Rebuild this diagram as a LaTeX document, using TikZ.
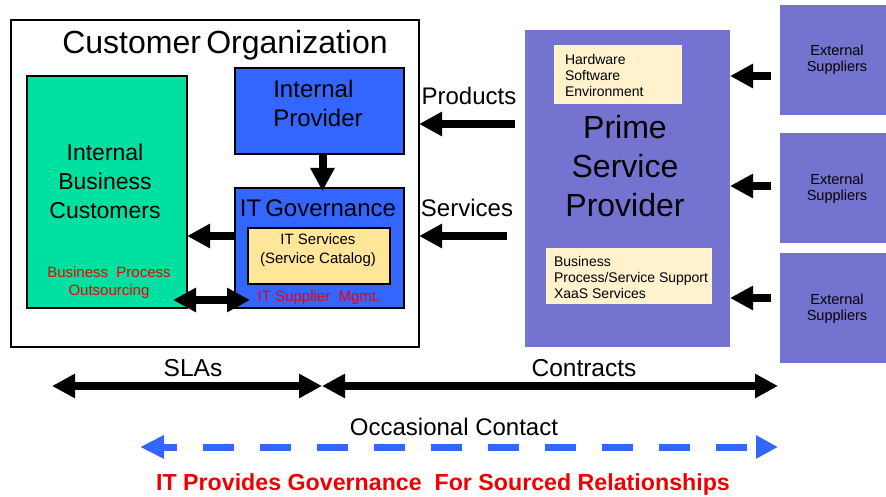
\documentclass[tikz,border=0pt]{standalone}
\usepackage{fontspec}
\setmainfont{Liberation Sans}
\usetikzlibrary{arrows.meta}
\definecolor{bizgreen}{RGB}{0,224,160}
\definecolor{provblue}{RGB}{51,102,255}
\definecolor{catyellow}{RGB}{255,230,153}
\definecolor{noteyellow}{RGB}{255,242,204}
\definecolor{primepurple}{RGB}{116,116,208}
\definecolor{alertred}{RGB}{240,0,0}
\newcommand\sizeto[2]{\fontsize{#1pt}{#2pt}\selectfont}

\begin{document}
\begin{tikzpicture}[x=1pt,y=-1pt,
  box/.style={draw=black,line width=2.6pt,inner sep=0pt,outer sep=0pt,anchor=north west},
  flat/.style={inner sep=0pt,outer sep=0pt,anchor=north west},
  lbl/.style={inner sep=0pt,outer sep=0pt,align=center},
  note/.style={inner sep=0pt,outer sep=0pt,align=left,anchor=west,font=\sizeto{14}{16}},
  flow/.style={line width=8pt,-{Triangle[length=23pt,width=23pt]}},
  flowboth/.style={line width=7.5pt,{Triangle[length=23pt,width=23pt]}-{Triangle[length=23pt,width=23pt]}}
]
\useasboundingbox (0,0) rectangle (886,497);

% ---- customer organization ----
\node[box,fill=white,minimum width=408pt,minimum height=327pt] (cust) at (11,20) {};
\node[lbl,font=\sizeto{32}{36}] (custtitle) at (225,45) {Customer\,Organization};

\node[box,fill=bizgreen,minimum width=160pt,minimum height=232pt] (green) at (27,76) {};
\node[lbl,font=\sizeto{23}{29}] (greentxt) at (105,181) {Internal\\Business\\Customers};
\node[lbl,font=\sizeto{15}{18},text=alertred] (bpo) at (109,283) {Business\ \ Process\\Outsourcing};

\node[box,fill=provblue,minimum width=169pt,minimum height=86pt] (intprov) at (235,68) {};
\node[lbl,align=left,font=\sizeto{24}{29}] (intprovtxt) at (318,103) {Internal\\Provider};

\node[box,fill=provblue,minimum width=169pt,minimum height=120pt] (itgov) at (235,188) {};
\node[lbl,font=\sizeto{24}{29}] (itgovtxt) at (318,208) {IT\,Governance};
\node[box,fill=catyellow,minimum width=142pt,minimum height=56pt] (itsvc) at (248,228) {};
\node[lbl,font=\sizeto{15}{19}] (itsvctxt) at (318,250) {IT Services\\(Service Catalog)};
\node[lbl,font=\sizeto{15}{18},text=alertred] (supmgmt) at (319,298) {IT Supplier\ \ Mgmt.};

% internal flows
\draw[flow] ([xshift=3pt]intprov.south) -- ([xshift=3pt,yshift=-3pt]itgov.north);
\coordinate (rowsvc) at (0,236);
\draw[flow] (itgov.west |- rowsvc) -- (green.east |- rowsvc);
\coordinate (bpoL) at (173,300);
\coordinate (bpoR) at (250,300);
\draw[flowboth] (bpoL) -- (bpoR);

% ---- prime service provider ----
\node[flat,fill=primepurple,minimum width=205pt,minimum height=317pt] (prime) at (525,30) {};
\node[lbl,font=\sizeto{32}{39}] (primetxt) at (625,166) {Prime\\Service\\Provider};
\node[flat,fill=noteyellow,minimum width=128pt,minimum height=59pt] (hw) at (554,45) {};
\node[note] (hwtxt) at (565,75) {Hardware\\Software\\Environment};
\node[flat,fill=noteyellow,minimum width=166pt,minimum height=56pt] (bp) at (546,248) {};
\node[note] (bptxt) at (554,277) {Business\\Process/Service Support\\XaaS Services};

% products and services to the customer
\node[lbl,font=\sizeto{24}{29}] (prodlbl) at (469,96) {Products};
\node[lbl,font=\sizeto{24}{29}] (svclbl) at (467,208) {Services};
\coordinate (prodtail) at (515,124);
\coordinate (svctail) at (507,236);
\draw[flow] (prodtail) -- (prodtail -| cust.east);
\draw[flow] (svctail) -- (svctail -| cust.east);

% ---- external suppliers ----
\foreach \n/\top/\mid in {1/5/60, 2/133/189, 3/253/309}{
  \node[flat,fill=primepurple,minimum width=106pt,minimum height=110pt] (sup\n) at (780,\top) {};
  \node[lbl,font=\sizeto{14.5}{16}] (sup\n txt) at (837,\mid) {External\\Suppliers};
}
\foreach \n/\row in {1/76, 2/186, 3/298}{
  \coordinate (suptail\n) at (771,\row);
  \draw[flow] (suptail\n) -- (suptail\n -| prime.east);
}

% ---- relationship scale ----
\node[lbl,font=\sizeto{24.5}{28}] (slalbl) at (193,368) {SLAs};
\node[lbl,font=\sizeto{24.5}{28}] (contlbl) at (584,368) {Contracts};
\coordinate (slaL) at (52,386);
\coordinate (mid) at (322,386);
\coordinate (contR) at (778,386);
\draw[flowboth] (slaL) -- (mid);
\draw[flowboth] (mid) -- (contR);

\node[lbl,font=\sizeto{24}{28}] (occlbl) at (454,427) {Occasional Contact};
\coordinate (occL) at (140,447);
\coordinate (occR) at (778,447);
\draw[draw=provblue,line width=7pt,dash pattern=on 31pt off 26pt,dash phase=17pt,
  {Triangle[length=24pt,width=22pt]}-{Triangle[length=22pt,width=22pt]}] (occL) -- (occR);

\node[lbl,font=\sizeto{23.2}{27}\bfseries,text=alertred] (motto) at (443,484)
  {IT Provides Governance\ \ For Sourced Relationships};
\end{tikzpicture}
\end{document}
